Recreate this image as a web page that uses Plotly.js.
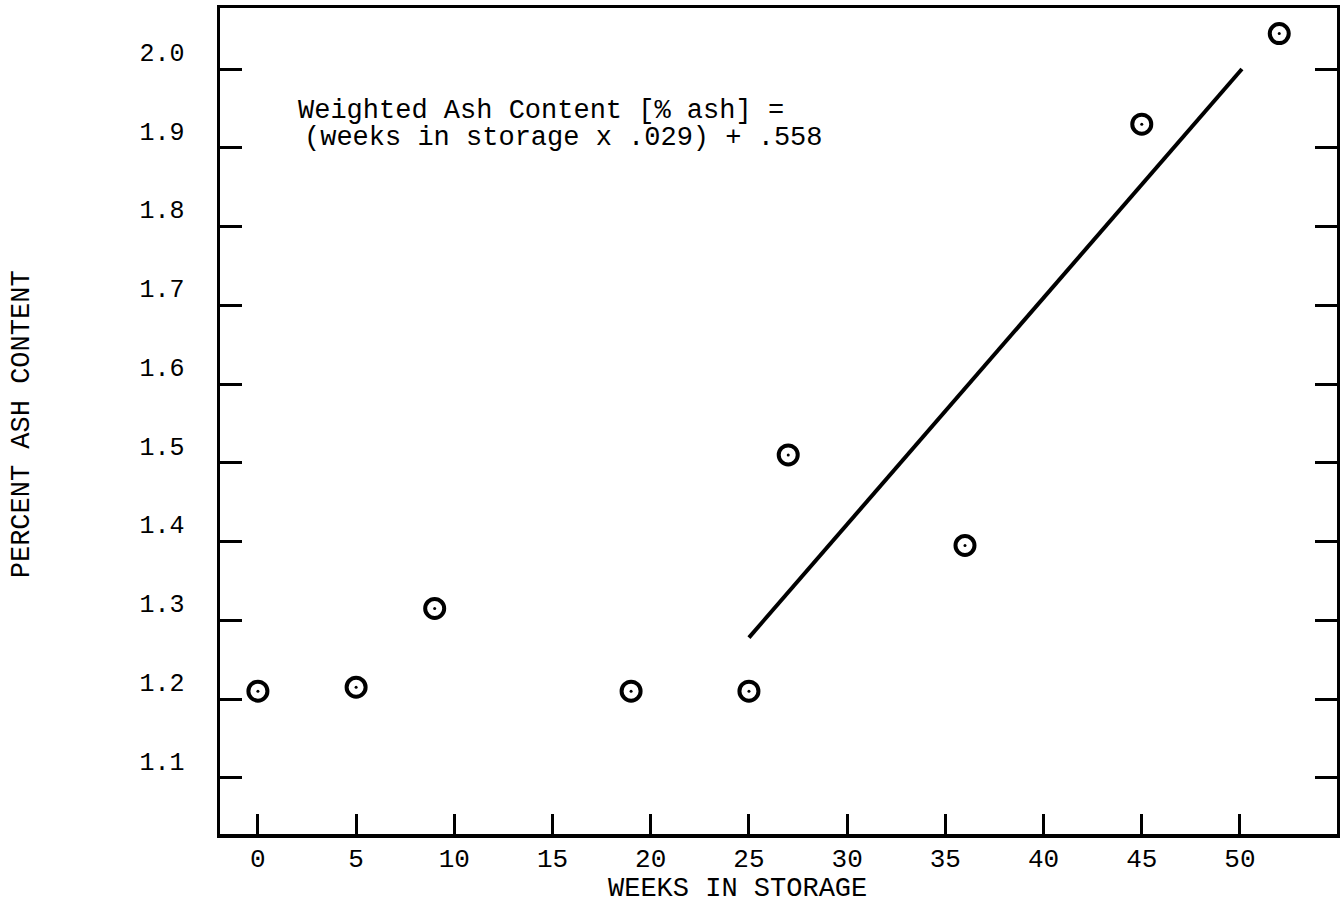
<!DOCTYPE html>
<html>
<head>
<meta charset="utf-8">
<script src="https://cdn.plot.ly/plotly-3.0.1.min.js"></script>
<style>html,body{margin:0;padding:0;background:#fff;}#chart{width:1340px;height:913px;}</style>
</head>
<body>
<div id="chart"></div>
<script>
// Data
const weeks = [0, 5, 9, 19, 25, 27, 36, 45, 52];
const ashPercent = [1.21, 1.215, 1.315, 1.21, 1.21, 1.51, 1.395, 1.93, 2.045];
const fitWeeks = [25, 50.1];
const fitAsh = [1.278, 2.0];
const xTickVals = [0, 5, 10, 15, 20, 25, 30, 35, 40, 45, 50];
const xTickText = ['0', '5', '10', '15', '20', '25', '30', '35', '40', '45', '50'];
const yTickVals = [1.1, 1.2, 1.3, 1.4, 1.5, 1.6, 1.7, 1.8, 1.9, 2.0];
const yTickText = ['1.1', '1.2', '1.3', '1.4', '1.5', '1.6', '1.7', '1.8', '1.9', '2.0'];
const xTitle = 'WEEKS IN STORAGE';
const yTitle = 'PERCENT ASH CONTENT';
const equationLine1 = 'Weighted Ash Content [% ash] =';
const equationLine2 = '(weeks in storage x .029) + .558';

const FONT = 'Liberation Mono, Courier New, monospace';

const traces = [
  {
    x: fitWeeks, y: fitAsh, mode: 'lines', type: 'scatter',
    line: {color: '#000', width: 4}, hoverinfo: 'skip'
  },
  {
    x: weeks, y: ashPercent, mode: 'markers', type: 'scatter',
    marker: {symbol: 'circle-open', size: 19, color: '#000', line: {color: '#000', width: 4}}
  },
  {
    x: weeks, y: ashPercent, mode: 'markers', type: 'scatter',
    marker: {symbol: 'circle', size: 3, color: '#000'}, hoverinfo: 'skip'
  }
];

const layout = {
  width: 1340, height: 913,
  margin: {l: 220, r: 3, t: 8, b: 79},
  paper_bgcolor: '#fff', plot_bgcolor: '#fff',
  showlegend: false,
  font: {family: FONT, color: '#000', size: 24},
  xaxis: {
    range: [-1.93, 54.94],
    tickmode: 'array', tickvals: xTickVals, ticktext: xTickText,
    ticks: 'inside', ticklen: 20, tickwidth: 3, tickcolor: '#000',
    showline: true, linewidth: 3.5, linecolor: '#000', mirror: true,
    showgrid: false, zeroline: false,
    tickfont: {family: FONT, size: 26, color: '#000'},
    ticklabelstandoff: -2
  },
  yaxis: {
    range: [1.0286, 2.0775],
    tickmode: 'array', tickvals: yTickVals, ticktext: yTickText,
    ticks: 'inside', ticklen: 22, tickwidth: 3, tickcolor: '#000',
    showline: true, linewidth: 3.5, linecolor: '#000', mirror: 'ticks',
    showgrid: false, zeroline: false,
    tickfont: {family: FONT, size: 25, color: '#000'},
    ticklabelstandoff: 27,
    ticklabelshift: -17
  },
  annotations: [
    {
      text: equationLine1, xref: 'paper', yref: 'paper',
      x: (296 - 220) / 1117, y: (834 - 111) / 826, xanchor: 'left', yanchor: 'middle', align: 'left',
      showarrow: false, font: {family: FONT, size: 27, color: '#000'}
    },
    {
      text: equationLine2, xref: 'paper', yref: 'paper',
      x: (302 - 220) / 1117, y: (834 - 138) / 826, xanchor: 'left', yanchor: 'middle', align: 'left',
      showarrow: false, font: {family: FONT, size: 27, color: '#000'}
    },
    {
      text: xTitle, xref: 'paper', yref: 'paper',
      x: 0.4637, y: -0.0665, xanchor: 'center', yanchor: 'middle',
      showarrow: false, font: {family: FONT, size: 27, color: '#000'}
    },
    {
      text: yTitle, xref: 'paper', yref: 'paper', textangle: -90,
      x: -0.177, y: 0.4964, xanchor: 'center', yanchor: 'middle',
      showarrow: false, font: {family: FONT, size: 27, color: '#000'}
    }
  ]
};

Plotly.newPlot('chart', traces, layout, {displayModeBar: false, staticPlot: true});
</script>
</body>
</html>
